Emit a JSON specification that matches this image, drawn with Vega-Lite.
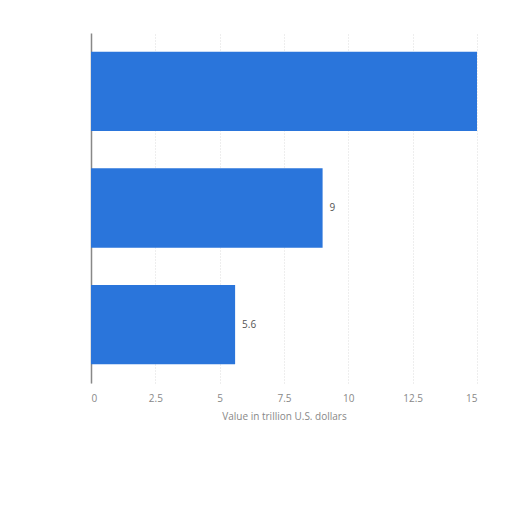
{
  "$schema": "https://vega.github.io/schema/vega-lite/v6.json",
  "autosize": {"type": "none"},
  "padding": {"left": 91, "top": 33, "right": 35, "bottom": 129},
  "width": 386,
  "height": 350,
  "data": {
    "values": [
      {"category": "A", "value": 15, "label": ""},
      {"category": "B", "value": 9, "label": "9"},
      {"category": "C", "value": 5.6, "label": "5.6"}
    ]
  },
  "encoding": {
    "y": {
      "field": "category",
      "type": "nominal",
      "sort": null,
      "scale": {"paddingInner": 0.32, "paddingOuter": 0.16},
      "axis": {"labels": false, "ticks": false, "title": null, "domainColor": "#888888", "domainWidth": 1.5}
    },
    "x": {
      "field": "value",
      "type": "quantitative",
      "scale": {"domain": [0, 15], "nice": false},
      "axis": {
        "values": [0, 2.5, 5, 7.5, 10, 12.5, 15],
        "format": ".1~f",
        "title": "Value in trillion U.S. dollars",
        "titleFontWeight": "normal",
        "titleFontSize": 10,
        "titleColor": "#888888",
        "titlePadding": 8,
        "labelColor": "#888888",
        "labelFontSize": 10,
        "labelPadding": 10,
        "ticks": false,
        "domain": false,
        "grid": true,
        "gridColor": "#dddddd",
        "gridDash": [1, 2]
      }
    }
  },
  "layer": [
    {"mark": {"type": "bar", "color": "#2a75db"}},
    {
      "mark": {"type": "text", "align": "left", "dx": 7, "fontSize": 10, "color": "#555555"},
      "encoding": {"text": {"field": "label"}}
    }
  ],
  "config": {
    "view": {"stroke": null},
    "font": "Open Sans"
  }
}
